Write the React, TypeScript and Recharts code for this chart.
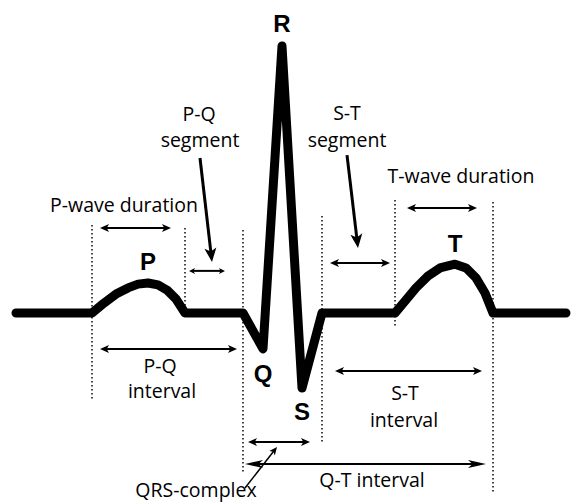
import { LineChart, Line, XAxis, YAxis, ReferenceLine, ReferenceDot } from "recharts";

// ECG trace: time in ms, amplitude in mV
const ecgTime = [0, 152, 176, 200, 224, 244, 264, 284, 302, 320, 338, 454, 494, 532, 572, 612, 758, 778, 800, 824, 848, 878, 900, 920, 938, 954, 1100];
const ecgAmp = [0, 0, 0.037, 0.07, 0.093, 0.107, 0.111, 0.104, 0.085, 0.052, 0, 0, -0.133, 0.989, -0.278, 0, 0, 0.044, 0.093, 0.137, 0.167, 0.181, 0.167, 0.13, 0.074, 0, 0];

// dotted boundaries between the phases
const boundaryTime = [152, 338, 454, 612, 758, 954];
const boundaryTop = [0.326, 0.315, 0.307, 0.359, 0.419, 0.411];
const boundaryBottom = [-0.322, 0, -0.589, -0.481, -0.056, -0.667];

// double headed span arrows
const spanNames = ["P-wave duration", "P-Q segment", "P-Q interval", "S-T segment", "T-wave duration", "S-T interval", "QRS-complex", "Q-T interval"];
const spanStart = [168, 346, 168, 628, 782, 638, 464, 458];
const spanEnd = [310, 418, 442, 748, 922, 932, 588, 940];
const spanLevel = [0.315, 0.156, -0.133, 0.185, 0.389, -0.215, -0.478, -0.559];

// pointer arrows from captions
const pointerNames = ["P-Q segment", "S-T segment", "QRS-complex"];
const pointerFromT = [368, 662, 458];
const pointerFromA = [0.574, 0.585, -0.648];
const pointerToT = [392, 684, 522];
const pointerToA = [0.189, 0.241, -0.496];

// wave letters
const waveLetters = ["R", "P", "Q", "S", "T"];
const waveTime = [532, 264, 494, 572, 878];
const waveAmp = [1.041, 0.159, -0.256, -0.396, 0.226];

// captions
const captionText = ["P-Q", "segment", "P-wave duration", "S-T", "segment", "T-wave duration", "P-Q", "interval", "S-T", "interval", "Q-T interval", "QRS-complex"];
const captionTime = [366, 368, 216, 662, 662, 890, 288, 292, 778, 776, 712, 360];
const captionAmp = [0.711, 0.615, 0.374, 0.715, 0.615, 0.481, -0.222, -0.315, -0.322, -0.422, -0.644, -0.683];

const data = ecgTime.map((t, i) => ({ t, mv: ecgAmp[i] }));

const headPoints = (tx: number, ty: number, ux: number, uy: number, len: number, half: number) => {
  const bx = tx - ux * len;
  const by = ty - uy * len;
  const nx = tx - ux * len * 0.75;
  const ny = ty - uy * len * 0.75;
  return `${tx},${ty} ${bx - uy * half},${by + ux * half} ${nx},${ny} ${bx + uy * half},${by - ux * half}`;
};

const arrow = (both: boolean, width: number, len: number, half: number) => (props: any) => {
  const { x1, y1, x2, y2 } = props;
  const d = Math.hypot(x2 - x1, y2 - y1) || 1;
  const ux = (x2 - x1) / d;
  const uy = (y2 - y1) / d;
  const sx = both ? x1 + ux * len * 0.6 : x1;
  const sy = both ? y1 + uy * len * 0.6 : y1;
  return (
    <g>
      <line x1={sx} y1={sy} x2={x2 - ux * len * 0.6} y2={y2 - uy * len * 0.6} stroke="#000" strokeWidth={width} />
      <polygon points={headPoints(x2, y2, ux, uy, len, half)} fill="#000" />
      {both && <polygon points={headPoints(x1, y1, -ux, -uy, len, half)} fill="#000" />}
    </g>
  );
};

const textShape = (text: string, bold: boolean) => (props: any) => (
  <text
    x={props.cx}
    y={props.cy}
    textAnchor="middle"
    fontFamily={bold ? "Liberation Sans, Arial, sans-serif" : "Open Sans, sans-serif"}
    fontWeight={bold ? 700 : 400}
    fontSize={bold ? 24 : 19.5}
    fill="#000"
  >
    {text}
  </text>
);

export default function App() {
  return (
    <div style={{ position: "absolute", left: 0, top: 0, background: "#fff" }}>
      <LineChart width={573} height={502} data={data} margin={{ top: 0, right: 0, bottom: 0, left: 0 }}>
        <XAxis type="number" dataKey="t" domain={[-32, 1114]} allowDataOverflow hide />
        <YAxis type="number" domain={[-0.7, 1.1593]} allowDataOverflow hide />
        {boundaryTime.map((t, i) => (
          <ReferenceLine
            key={`b-${i}`}
            segment={[{ x: t, y: boundaryTop[i] }, { x: t, y: boundaryBottom[i] }]}
            stroke="#444"
            strokeWidth={2}
            strokeDasharray="1.5 2.5"
            ifOverflow="visible"
          />
        ))}
        <Line
          dataKey="mv"
          type="linear"
          stroke="#000"
          strokeWidth={9}
          strokeLinejoin="round"
          strokeLinecap="round"
          dot={false}
          activeDot={false}
          isAnimationActive={false}
        />
        {spanNames.map((name, i) => {
          const big = name === "Q-T interval";
          const small = name === "P-Q segment";
          return (
            <ReferenceLine
              key={`s-${i}`}
              segment={[{ x: spanStart[i], y: spanLevel[i] }, { x: spanEnd[i], y: spanLevel[i] }]}
              ifOverflow="visible"
              shape={arrow(true, 2, big ? 18 : small ? 6 : 9, big ? 4 : small ? 3 : 4)}
            />
          );
        })}
        {pointerNames.map((name, i) => {
          const thin = name === "QRS-complex";
          return (
            <ReferenceLine
              key={`p-${i}`}
              segment={[{ x: pointerFromT[i], y: pointerFromA[i] }, { x: pointerToT[i], y: pointerToA[i] }]}
              ifOverflow="visible"
              shape={arrow(false, thin ? 1.5 : 3, thin ? 8 : 14, thin ? 3.5 : 6)}
            />
          );
        })}
        {waveLetters.map((w, i) => (
          <ReferenceDot key={`w-${i}`} x={waveTime[i]} y={waveAmp[i]} ifOverflow="visible" shape={textShape(w, true)} />
        ))}
        {captionText.map((c, i) => (
          <ReferenceDot key={`c-${i}`} x={captionTime[i]} y={captionAmp[i]} ifOverflow="visible" shape={textShape(c, false)} />
        ))}
      </LineChart>
    </div>
  );
}
